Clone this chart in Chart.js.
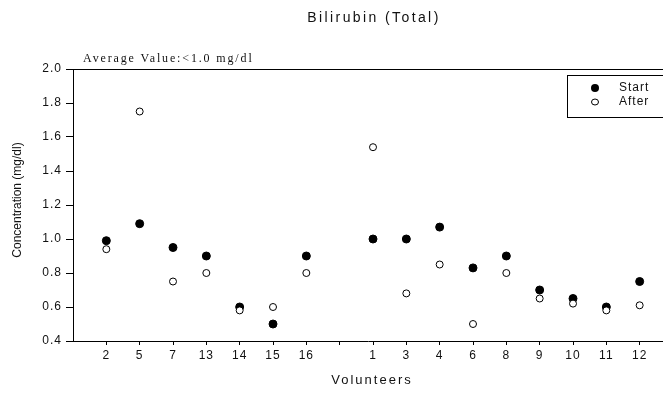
<!DOCTYPE html>
<html>
<head>
<meta charset="utf-8">
<script src="https://cdn.jsdelivr.net/npm/chart.js@4/dist/chart.umd.min.js"></script>
<style>
  html, body { margin: 0; padding: 0; background: #fff; overflow: hidden; }
  #wrap { position: relative; width: 663px; height: 394px; }
</style>
</head>
<body>
<div id="wrap"><canvas id="biliChart"></canvas></div>
<script>
// volunteer ids in plotted order; the empty slot separates the two groups
const volunteers = ['2', '5', '7', '13', '14', '15', '16', '', '1', '3', '4', '6', '8', '9', '10', '11', '12'];
const startValues = [0.99, 1.09, 0.95, 0.90, 0.60, 0.50, 0.90, null, 1.00, 1.00, 1.07, 0.83, 0.90, 0.70, 0.65, 0.60, 0.75];
const afterValues = [0.94, 1.75, 0.75, 0.80, 0.58, 0.60, 0.80, null, 1.54, 0.68, 0.85, 0.50, 0.80, 0.65, 0.62, 0.58, 0.61];
const yTicks = [0.4, 0.6, 0.8, 1.0, 1.2, 1.4, 1.6, 1.8, 2.0];

const chartTitle = 'Bilirubin (Total)';
const noteText = 'Average Value:<1.0 mg/dl';
const xTitle = 'Volunteers';
const yTitle = 'Concentration (mg/dl)';

function toPoints(values) {
    return values.map((v, i) => ({ x: i + 1, y: v }));
}

// titles, top frame line, note and legend box
const decorPlugin = {
    id: 'decor',
    beforeDraw(chart) {
        chart.ctx.letterSpacing = '1px';
    },
    afterDraw(chart) {
        const { ctx, chartArea: area } = chart;
        ctx.save();
        ctx.strokeStyle = '#000';
        ctx.lineWidth = 1;
        ctx.beginPath();
        ctx.moveTo(area.left, area.top + 0.5);
        ctx.lineTo(area.right, area.top + 0.5);
        ctx.stroke();

        ctx.fillStyle = '#111';
        ctx.textBaseline = 'middle';

        ctx.letterSpacing = '2.4px';
        ctx.font = '14px "Liberation Sans"';
        ctx.textAlign = 'center';
        ctx.fillText(chartTitle, (area.left + area.right) / 2 + 6, 18);

        ctx.letterSpacing = '2px';
        ctx.font = '13px "Liberation Sans"';
        ctx.fillText(xTitle, (area.left + area.right) / 2 + 4, 380);

        ctx.letterSpacing = '0px';
        ctx.font = '12px "Liberation Sans"';
        ctx.save();
        ctx.translate(18, (area.top + area.bottom) / 2 - 5);
        ctx.rotate(-Math.PI / 2);
        ctx.fillText(yTitle, 0, 0);
        ctx.restore();

        ctx.letterSpacing = '1.85px';
        ctx.font = '12px "Liberation Serif"';
        ctx.textAlign = 'left';
        ctx.fillText(noteText, area.left + 10, 59);

        // legend
        const lx = area.right - 96;
        const ly = area.top + 6;
        ctx.strokeRect(lx + 0.5, ly + 0.5, 120, 42);
        ctx.letterSpacing = '1px';
        ctx.font = '12px "Liberation Sans"';
        ctx.beginPath();
        ctx.arc(lx + 28, ly + 13, 4, 0, Math.PI * 2);
        ctx.fillStyle = '#000';
        ctx.fill();
        ctx.beginPath();
        ctx.ellipse(lx + 28, ly + 27, 3.5, 3, 0, 0, Math.PI * 2);
        ctx.fillStyle = '#fff';
        ctx.fill();
        ctx.stroke();
        ctx.fillStyle = '#111';
        ctx.fillText('Start', lx + 52, ly + 13);
        ctx.fillText('After', lx + 52, ly + 27);
        ctx.restore();
    }
};

const ctx = document.getElementById('biliChart').getContext('2d');

new Chart(ctx, {
    type: 'scatter',
    data: {
        datasets: [
            {
                label: 'Start',
                data: toPoints(startValues),
                pointRadius: 4,
                pointBackgroundColor: '#000',
                pointBorderColor: '#000',
                pointBorderWidth: 1,
                order: 1
            },
            {
                label: 'After',
                data: toPoints(afterValues),
                pointRadius: 3.5,
                pointBackgroundColor: '#fff',
                pointBorderColor: '#000',
                pointBorderWidth: 1,
                order: 0
            }
        ]
    },
    options: {
        responsive: true,
        maintainAspectRatio: false,
        animation: false,
        events: [],
        layout: {
            autoPadding: false,
            padding: { top: 69, left: 0, right: 0, bottom: 0 }
        },
        plugins: {
            legend: { display: false },
            tooltip: { enabled: false }
        },
        scales: {
            x: {
                type: 'linear',
                min: 0,
                max: 17.7,
                afterBuildTicks: scale => {
                    scale.ticks = volunteers.map((_, i) => ({ value: i + 1 }));
                },
                afterFit: scale => {
                    scale.height = 53;
                    scale.paddingLeft = 0;
                    scale.paddingRight = 0;
                },
                ticks: {
                    autoSkip: false,
                    maxRotation: 0,
                    padding: 3,
                    color: '#111',
                    font: { family: 'Liberation Sans', size: 12 },
                    callback: (value, index) => volunteers[index]
                },
                grid: {
                    drawOnChartArea: false,
                    drawTicks: true,
                    tickLength: 4,
                    tickColor: '#000'
                },
                border: { display: true, color: '#000', width: 1 }
            },
            y: {
                min: 0.4,
                max: 2.0,
                afterBuildTicks: scale => {
                    scale.ticks = yTicks.map(v => ({ value: v }));
                },
                afterFit: scale => {
                    scale.width = 73;
                    scale.paddingTop = 0;
                    scale.paddingBottom = 0;
                },
                ticks: {
                    padding: 4,
                    color: '#111',
                    font: { family: 'Liberation Sans', size: 12 },
                    callback: value => Number(value).toFixed(1)
                },
                grid: {
                    drawOnChartArea: false,
                    drawTicks: true,
                    tickLength: 7,
                    tickColor: '#000'
                },
                border: { display: true, color: '#000', width: 1 }
            }
        }
    },
    plugins: [decorPlugin]
});
</script>
</body>
</html>
